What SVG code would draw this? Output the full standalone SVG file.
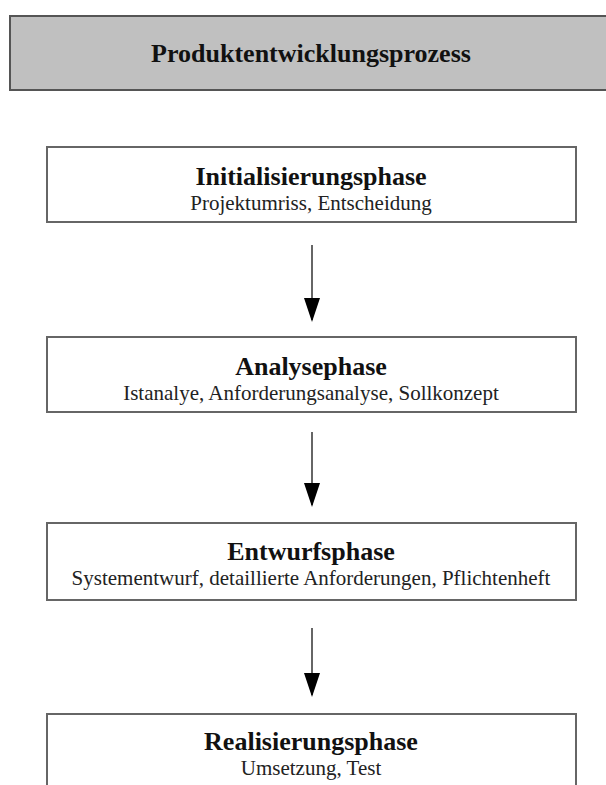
<svg xmlns="http://www.w3.org/2000/svg" width="606" height="785" viewBox="0 0 606 785">
  <style>
    .hdr { fill: #c0c0c0; stroke: #555555; stroke-width: 2; }
    .box { fill: #ffffff; stroke: #666666; stroke-width: 2; }
    .title { font-family: "Liberation Serif", "Times New Roman", serif; font-weight: bold; font-size: 26px; fill: #111111; text-anchor: middle; }
    .sub { font-family: "Liberation Serif", "Times New Roman", serif; font-size: 21px; fill: #222222; text-anchor: middle; }
    .edge { stroke: #666666; stroke-width: 2; fill: none; }
  </style>
  <defs>
    <!-- arrowhead drawn along +x so orient="auto" turns it to the line direction -->
    <marker id="arrowhead" markerUnits="userSpaceOnUse" markerWidth="24" markerHeight="16" refX="22" refY="8" orient="auto" viewBox="0 0 24 16">
      <path d="M0,0 L24,8 L0,16 Z" fill="#000000"/>
    </marker>
  </defs>
  <rect width="606" height="785" fill="#ffffff"/>

  <g id="header">
    <rect class="hdr" x="10" y="16" width="605" height="74"/>
    <text class="title" x="311" y="62">Produktentwicklungsprozess</text>
  </g>

  <g id="initialisierung">
    <rect class="box" x="47" y="147" width="529" height="75"/>
    <text class="title" x="311" y="185">Initialisierungsphase</text>
    <text class="sub" x="311" y="210">Projektumriss, Entscheidung</text>
  </g>

  <g id="analyse">
    <rect class="box" x="47" y="337" width="529" height="75"/>
    <text class="title" x="311" y="375">Analysephase</text>
    <text class="sub" x="311" y="400">Istanalye, Anforderungsanalyse, Sollkonzept</text>
  </g>

  <g id="entwurf">
    <rect class="box" x="47" y="523" width="529" height="77"/>
    <text class="title" x="311" y="560">Entwurfsphase</text>
    <text class="sub" x="311" y="585">Systementwurf, detaillierte Anforderungen, Pflichtenheft</text>
  </g>

  <g id="realisierung">
    <rect class="box" x="47" y="714" width="529" height="80"/>
    <text class="title" x="311" y="750">Realisierungsphase</text>
    <text class="sub" x="311" y="775">Umsetzung, Test</text>
  </g>

  <g id="connectors">
    <line class="edge" x1="312" y1="245" x2="312" y2="320" marker-end="url(#arrowhead)"/>
    <line class="edge" x1="312" y1="432" x2="312" y2="505" marker-end="url(#arrowhead)"/>
    <line class="edge" x1="312" y1="628" x2="312" y2="695" marker-end="url(#arrowhead)"/>
  </g>
</svg>
